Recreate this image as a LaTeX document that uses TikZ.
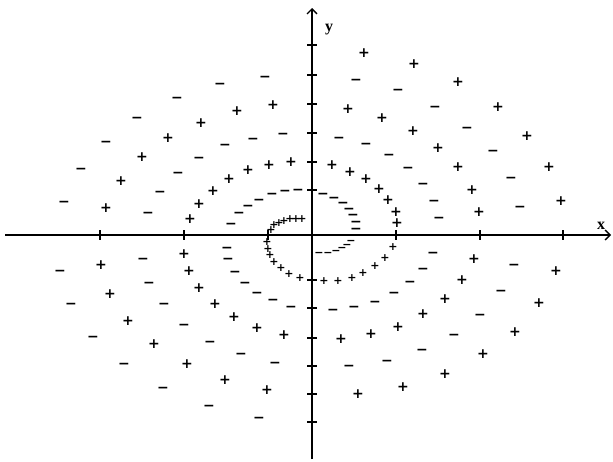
\documentclass[tikz,border=0pt]{standalone}
\usepackage{fontspec}
\setmainfont{Liberation Serif}
\newfontfamily\sgfont{DejaVu Sans}
\usetikzlibrary{arrows.meta}
\begin{document}
\begin{tikzpicture}[x=1pt,y=-1pt,
  sgn/.style={inner sep=0pt, font=\sgfont\bfseries\fontsize{14}{14}\selectfont, text height=10.4pt, text depth=0pt},
  sgs/.style={inner sep=0pt, font=\sgfont\bfseries\fontsize{11}{11}\selectfont, text height=8.1pt, text depth=0pt},
  axisline/.style={line width=2.6pt, -{Straight Barb[length=5pt,width=10pt,line width=1.3pt]}},
  tickmark/.style={line width=1.5pt},
  lbl/.style={font=\bfseries\fontsize{16}{16}\selectfont, inner sep=0pt}]
\useasboundingbox (0,0) rectangle (613,461);
% axes
\coordinate (xs) at (5,235);
\coordinate (xe) at (611,235);
\coordinate (ys) at (312,459);
\coordinate (ye) at (312,8);
\draw[axisline] (xs) -- (xe);
\draw[axisline] (ys) -- (ye);
\node[lbl] (xl) at (601,226) {x};
\node[lbl] (yl) at (329,30) {y};
% ticks on axes
\foreach \x [count=\i] in {100,184,268,396,480,563}
  \draw[tickmark] (\x,230) -- (\x,240);
\foreach \y [count=\i] in {45,75,104,133,162,190,280,308,338,366,394,422}
  \draw[tickmark] (307,\y) -- (317,\y);
% plus signs
\foreach \x/\y [count=\i] in {
  106/207,121/180,142/156,168/137,201/122,237/110,273/104,
  190/218,199/203,213/190,229/178,248/169,269/164,291/161,
  364/52,414/63,458/81,498/106,527/135,549/166,561/200,
  348/108,382/117,413/130,438/147,458/166,472/189,479/211,
  332/164,350/171,366/178,379/188,388/199,396/211,397/222,
  101/264,110/293,128/320,154/343,187/363,225/379,267/389,
  184/253,189/270,199/287,215/303,234/316,257/327,284/334,
  474/258,462/279,445/298,423/313,398/326,371/333,341/338,
  556/270,539/302,515/331,483/353,445/373,403/386,358/393}
  \node[sgn] (p\i) at (\x,\y) {+};
% inner plus spiral
\foreach \x/\y [count=\i] in {
  271/229,274/224,279/222,284/220,290/218,296/218,302/218,
  267/241,268/248,270/254,274/261,281/267,289/273,300/277,
  324/280,338/280,352/277,363/272,375/265,385/257,393/246}
  \node[sgs] (q\i) at (\x,\y) {+};
% minus signs
\foreach \x/\y [count=\i] in {
  64/201,81/168,106/141,137/117,177/97,220/83,265/76,
  148/212,160/191,178/172,199/157,225/144,253/138,283/133,
  231/223,239/212,248/205,259/199,272/193,285/190,298/189,
  356/79,398/89,435/106,467/127,493/150,511/177,520/206,
  339/137,366/143,389/154,408/167,423/183,434/200,439/217,
  323/193,334/197,343/202,349/208,353/214,356/221,356/228,
  60/270,71/303,93/336,124/363,163/387,209/405,259/417,
  143/258,149/282,164/303,184/324,210/341,241/353,275/362,
  227/247,228/258,235/271,245/282,257/292,273/299,291/306,
  433/252,423/268,410/281,394/292,375/301,354/306,333/309,
  514/264,501/290,480/314,454/334,422/349,387/360,349/365}
  \node[sgn] (m\i) at (\x,\y) {−};
% inner minus spiral
\foreach \x/\y [count=\i] in {
  319/252,328/252,336/250,342/247,347/244,351/240}
  \node[sgs] (n\i) at (\x,\y) {−};
\end{tikzpicture}
\end{document}
